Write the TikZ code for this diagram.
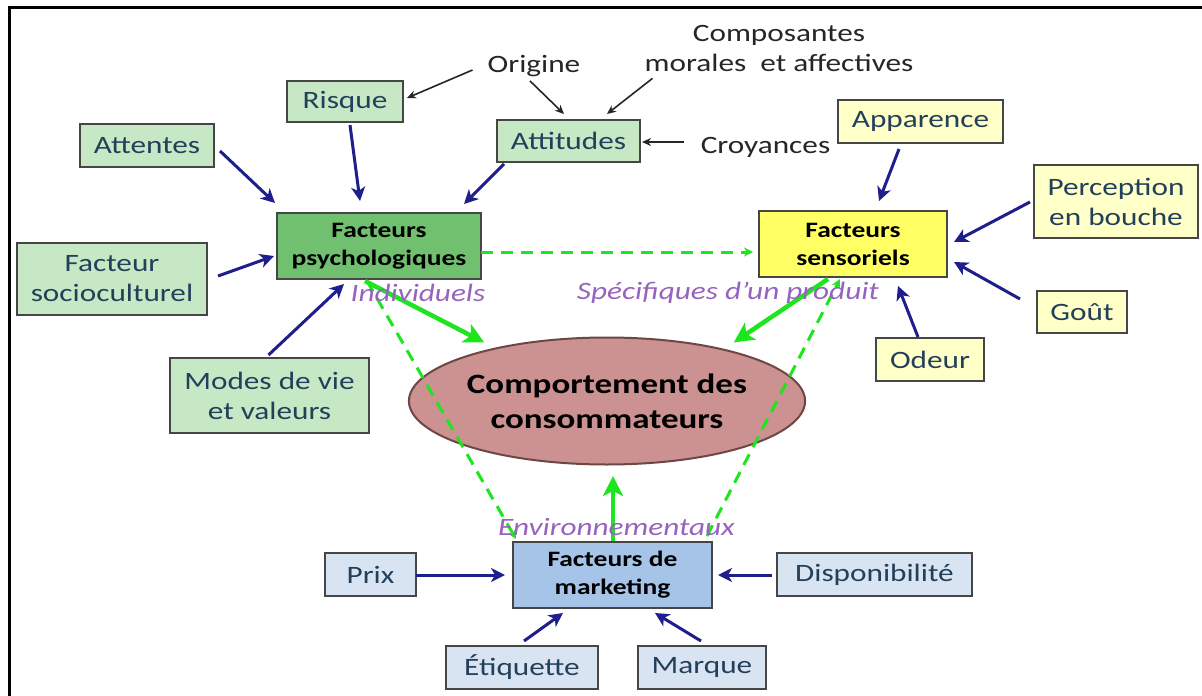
\documentclass[tikz,border=0pt]{standalone}
\usepackage{fontspec}
\setmainfont{Carlito}[FakeStretch=1.25]
\usetikzlibrary{arrows.meta,shapes.geometric}
\definecolor{lgreen}{RGB}{198,232,196}
\definecolor{dgreen}{RGB}{112,192,112}
\definecolor{lyellow}{RGB}{255,255,200}
\definecolor{dyellow}{RGB}{255,255,100}
\definecolor{lblue}{RGB}{217,228,243}
\definecolor{dblue}{RGB}{165,196,232}
\definecolor{ellfill}{RGB}{204,145,145}
\definecolor{ellborder}{RGB}{110,70,70}
\definecolor{boxborder}{RGB}{70,70,70}
\definecolor{boxtext}{RGB}{35,64,90}
\definecolor{navy}{RGB}{30,30,140}
\definecolor{brightgreen}{RGB}{30,230,30}
\definecolor{lblpurple}{RGB}{150,100,190}
\definecolor{notecol}{RGB}{38,38,38}
\tikzset{
  box/.style={draw=boxborder, line width=2pt, align=center, inner sep=0pt, text=boxtext, font=\fontsize{25}{30}\selectfont},
  gbox/.style={box, fill=lgreen},
  ybox/.style={box, fill=lyellow},
  bbox/.style={box, fill=lblue},
  mainbox/.style={draw=boxborder, line width=2pt, align=center, inner sep=0pt, text=black, font=\bfseries\fontsize{22}{28}\selectfont},
  lbl/.style={font=\itshape\fontsize{25}{30}\selectfont, text=lblpurple, inner sep=0pt},
  note/.style={font=\fontsize{25}{30}\selectfont, text=notecol, inner sep=0pt, align=center},
  arr/.style={draw=navy, line width=3pt, -{Stealth[length=14pt,width=14pt,inset=4pt]}},
  thinarr/.style={draw=notecol, line width=1.6pt, -{Stealth[length=9pt,width=8pt]}},
  garr/.style={draw=brightgreen, line width=4.5pt, -{Stealth[length=20pt,width=20pt,inset=5pt]}},
  gdash/.style={draw=brightgreen, line width=3pt, dash pattern=on 12pt off 8pt, -{Stealth[length=9pt,width=9pt]}}
}
\begin{document}
\begin{tikzpicture}[x=1pt,y=-1pt]
\useasboundingbox (0,0) rectangle (1202,696);
\fill[white] (0,0) rectangle (1202,696);
\draw[line width=3pt] (9,696) -- (9,7) -- (1202,7);

% green (psychological) side
\node[gbox, minimum width=134, minimum height=43] (att) at (147,145.5) {Attentes};
\node[gbox, minimum width=116, minimum height=41] (ris) at (345,101.5) {Risque};
\node[gbox, minimum width=143, minimum height=42] (atd) at (568.5,141) {Attitudes};
\node[mainbox, fill=dgreen, minimum width=204, minimum height=66] (psy) at (379,246) {Facteurs\\psychologiques};
\node[gbox, minimum width=190, minimum height=72] (soc) at (112,279) {Facteur\\socioculturel};
\node[gbox, minimum width=199, minimum height=75] (mod) at (269.5,395.5) {Modes de vie\\et valeurs};

\node[note] (ori) at (534,66) {Origine};
\node[note] (comp) at (779,48) {Composantes\\morales\ \ et affectives};
\node[note] (croy) at (765.5,147) {Croyances};

% yellow (sensory) side
\node[ybox, minimum width=165, minimum height=43] (app) at (920.5,121.5) {Apparence};
\node[mainbox, fill=dyellow, minimum width=188, minimum height=66] (sen) at (853,244) {Facteurs\\sensoriels};
\node[ybox, minimum width=164, minimum height=73] (per) at (1116,201.5) {Perception\\en bouche};
\node[ybox, minimum width=90, minimum height=42] (gou) at (1082,312) {Goût};
\node[ybox, minimum width=108, minimum height=43] (ode) at (930,359.5) {Odeur};

% centre
\node[ellipse, draw=ellborder, line width=2pt, fill=ellfill, minimum width=322, minimum height=127, inner sep=0pt, align=center, font=\bfseries\fontsize{28}{35}\selectfont] (ell) at (607,401) {Comportement des\\consommateurs};

% blue (marketing) side
\node[bbox, minimum width=91, minimum height=43] (pri) at (370.5,574.5) {Prix};
\node[mainbox, fill=dblue, minimum width=199, minimum height=66] (mkt) at (612.5,575) {Facteurs de\\marketing};
\node[bbox, minimum width=195, minimum height=43] (dis) at (874.5,574.5) {Disponibilité};
\node[bbox, minimum width=152, minimum height=43] (eti) at (522,667.5) {Étiquette};
\node[bbox, minimum width=128, minimum height=43] (mar) at (702,667.5) {Marque};

% dashed green links
\draw[gdash] ([shift={(-1,6)}]psy.east) -- ([shift={(-5,8)}]sen.west);
\draw[gdash] ([shift={(-12,1)}]psy.south) -- ([shift={(4,-2)}]mkt.north west);
\draw[gdash] ([shift={(-6,-5)}]mkt.north east) -- ([shift={(-13,1)}]sen.south);

% solid green arrows
\draw[garr] ([shift={(-14,1)}]psy.south) -- ([shift={(18,-13)}]ell.north west);
\draw[garr] ([shift={(-25,1)}]sen.south) -- ([shift={(-14,-13)}]ell.north east);
\draw[garr] ([shift={(0.5,0)}]mkt.north) -- ([shift={(6,10.5)}]ell.south);

% labels
\node[lbl] (ind) at (418,293) {Individuels};
\node[lbl] (spe) at (728,293) {Spécifiques d’un produit};
\node[lbl] (env) at (616.5,527) {Environnementaux};

% navy arrows
\draw[arr] ([shift={(5,5.5)}]att.east) -- ([shift={(-1,-9)}]psy.north west);
\draw[arr] ([shift={(5,2)}]ris.south) -- ([shift={(-19,-11)}]psy.north);
\draw[arr] ([shift={(8,1)}]atd.south west) -- ([shift={(-18,-8)}]psy.north east);
\draw[arr] ([shift={(10,-3)}]soc.east) -- ([shift={(-2,10)}]psy.west);
\draw[arr] ([shift={(-1,-2)}]mod.north) -- ([shift={(-35,4)}]psy.south);
\draw[arr] ([shift={(-21.5,5)}]app.south) -- ([shift={(26,-9)}]sen.north);
\draw[arr] ([shift={(-3,0.5)}]per.west) -- ([shift={(6,-2)}]sen.east);
\draw[arr] ([shift={(-16,-13)}]gou.west) -- ([shift={(6,18)}]sen.east);
\draw[arr] ([shift={(-12,0)}]ode.north) -- ([shift={(45,8)}]sen.south);
\draw[arr] ([shift={(-1,0.5)}]pri.east) -- ([shift={(-7,0)}]mkt.west);
\draw[arr] ([shift={(-4,0.5)}]dis.west) -- ([shift={(5,0)}]mkt.east);
\draw[arr] ([shift={(2,-4)}]eti.north) -- ([shift={(-49.5,4)}]mkt.south);
\draw[arr] ([shift={(-1,-4)}]mar.north) -- ([shift={(42.5,4)}]mkt.south);

% thin black arrows
\draw[thinarr] ([shift={(-15,4)}]ori.west) -- ([shift={(3,-3.5)}]ris.east);
\draw[thinarr] ([shift={(-4,4)}]ori.south) -- ([shift={(-4.5,-5)}]atd.north);
\draw[thinarr] ([shift={(8,7)}]comp.south west) -- ([shift={(-34,-5)}]atd.north east);
\draw[thinarr] ([shift={(-17,-5)}]croy.west) -- ([shift={(1,1)}]atd.east);
\end{tikzpicture}
\end{document}
